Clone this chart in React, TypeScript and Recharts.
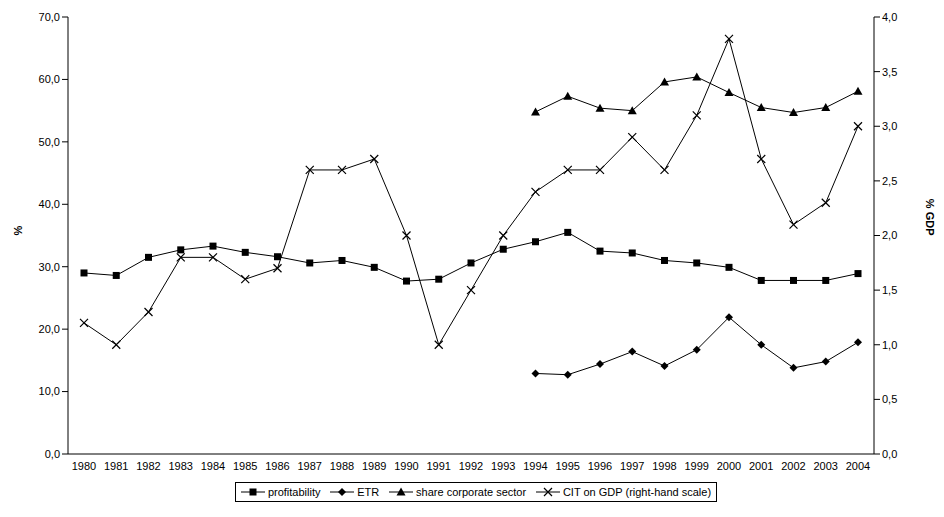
import React from 'react';
import { ComposedChart, Line, XAxis, YAxis } from 'recharts';

const years = ['1980','1981','1982','1983','1984','1985','1986','1987','1988','1989','1990','1991','1992','1993','1994','1995','1996','1997','1998','1999','2000','2001','2002','2003','2004'];
const profitability = [29.0,28.6,31.5,32.7,33.3,32.3,31.6,30.6,31.0,29.9,27.7,28.0,30.6,32.8,34.0,35.5,32.5,32.2,31.0,30.6,29.9,27.8,27.8,27.8,28.9];
const etr = [null,null,null,null,null,null,null,null,null,null,null,null,null,null,12.9,12.7,14.4,16.4,14.1,16.7,21.9,17.5,13.8,14.8,17.9];
const shareCorporate = [null,null,null,null,null,null,null,null,null,null,null,null,null,null,54.8,57.3,55.4,55.0,59.6,60.4,57.9,55.5,54.7,55.5,58.1];
const citOnGdp = [1.2,1.0,1.3,1.8,1.8,1.6,1.7,2.6,2.6,2.7,2.0,1.0,1.5,2.0,2.4,2.6,2.6,2.9,2.6,3.1,3.8,2.7,2.1,2.3,3.0];
const leftTicks = [0,10,20,30,40,50,60,70];
const rightTicks = [0,0.5,1,1.5,2,2.5,3,3.5,4];

const data = years.map((y, i) => ({
  year: y,
  profitability: profitability[i],
  etr: etr[i],
  share: shareCorporate[i],
  cit: citOnGdp[i],
}));

const fmt = (v: number) => v.toFixed(1).replace('.', ',');
const tickStyle = { fontSize: 11, fill: '#000', fontFamily: 'Liberation Sans, Arial' };

const Square = (p: any) => p.cy == null ? null : <rect x={p.cx - 3.5} y={p.cy - 3.5} width={7} height={7} fill="#000" />;
const Diamond = (p: any) => p.cy == null ? null : <path d={`M${p.cx},${p.cy - 4}L${p.cx + 4},${p.cy}L${p.cx},${p.cy + 4}L${p.cx - 4},${p.cy}Z`} fill="#000" />;
const Triangle = (p: any) => p.cy == null ? null : <path d={`M${p.cx},${p.cy - 4.5}L${p.cx + 4.5},${p.cy + 3.5}L${p.cx - 4.5},${p.cy + 3.5}Z`} fill="#000" />;
const Cross = (p: any) => p.cy == null ? null : <path d={`M${p.cx - 4},${p.cy - 4}L${p.cx + 4},${p.cy + 4}M${p.cx + 4},${p.cy - 4}L${p.cx - 4},${p.cy + 4}`} stroke="#000" strokeWidth={1.2} />;

const legendItems = [
  { label: 'profitability', Shape: Square },
  { label: 'ETR', Shape: Diamond },
  { label: 'share corporate sector', Shape: Triangle },
  { label: 'CIT on GDP (right-hand scale)', Shape: Cross },
];

export default function App() {
  return (
    <div style={{ position: 'absolute', left: 0, top: 0, width: 944, height: 517, background: '#fff', fontFamily: 'Liberation Sans, Arial' }}>
      <ComposedChart width={944} height={517} data={data} margin={{ top: 17, right: 10, left: 8, bottom: 38 }}>
        <XAxis dataKey="year" stroke="#000" tick={tickStyle} tickLine={false} interval={0} height={25} padding={{ left: 16, right: 16 }} />
        <YAxis yAxisId="l" domain={[0, 70]} ticks={leftTicks} tickFormatter={fmt} stroke="#000" tick={tickStyle} width={60}
          label={{ value: '%', angle: -90, position: 'insideLeft', offset: 10, style: { fontSize: 11, fontWeight: 'bold', fill: '#000' } }} />
        <YAxis yAxisId="r" orientation="right" domain={[0, 4]} ticks={rightTicks} tickFormatter={fmt} stroke="#000" tick={tickStyle} width={60}
          label={{ value: '% GDP', angle: 90, position: 'insideRight', offset: 4, style: { fontSize: 11, fontWeight: 'bold', fill: '#000' } }} />
        <Line yAxisId="l" dataKey="profitability" stroke="#000" strokeWidth={1} dot={<Square />} isAnimationActive={false} />
        <Line yAxisId="l" dataKey="etr" stroke="#000" strokeWidth={1} dot={<Diamond />} isAnimationActive={false} />
        <Line yAxisId="l" dataKey="share" stroke="#000" strokeWidth={1} dot={<Triangle />} isAnimationActive={false} />
        <Line yAxisId="r" dataKey="cit" stroke="#000" strokeWidth={1} dot={<Cross />} isAnimationActive={false} />
      </ComposedChart>
      <div style={{ position: 'absolute', left: 235, top: 482, width: 480, height: 18, border: '1px solid #000', display: 'flex', alignItems: 'center', justifyContent: 'space-around', fontSize: 11 }}>
        {legendItems.map(({ label, Shape }) => (
          <span key={label} style={{ display: 'flex', alignItems: 'center' }}>
            <svg width={24} height={10}>
              <line x1={0} y1={5} x2={24} y2={5} stroke="#000" />
              <Shape cx={12} cy={5} />
            </svg>
            <span style={{ marginLeft: 3 }}>{label}</span>
          </span>
        ))}
      </div>
    </div>
  );
}
